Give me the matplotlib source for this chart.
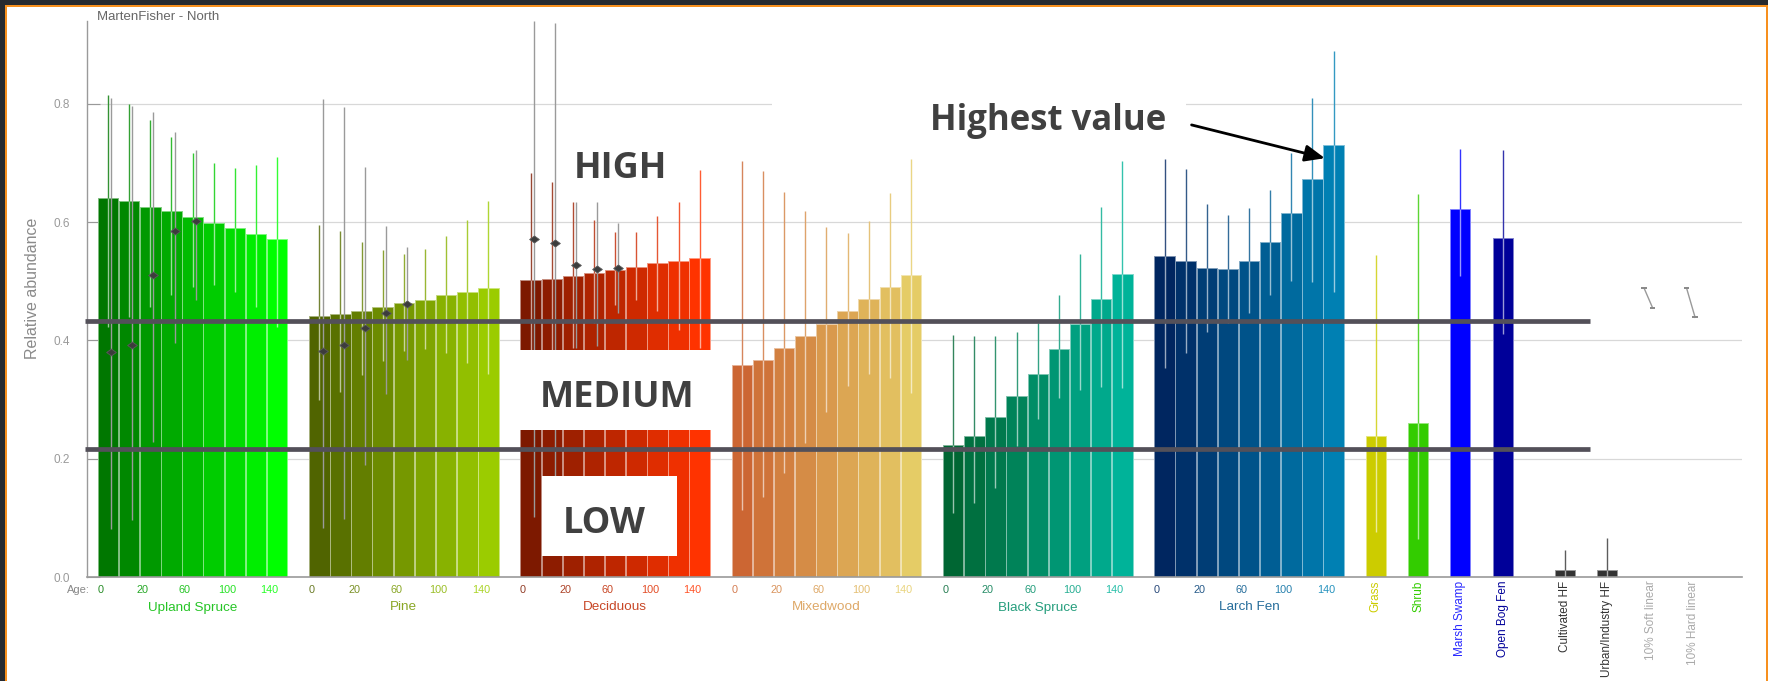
import numpy as np
import matplotlib
matplotlib.use("Agg")
import matplotlib.pyplot as plt
import matplotlib.colors as mcolors
from matplotlib.patches import Rectangle
from matplotlib import transforms as mtransforms

# ---------------- data ----------------
groups = ["Upland Spruce", "Pine", "Deciduous", "Mixedwood", "Black Spruce", "Larch Fen"]
age_ticks = ["0", "20", "60", "100", "140"]

upland_mean = [0.641, 0.636, 0.626, 0.618, 0.608, 0.598, 0.590, 0.580, 0.571]
upland_lo = [0.423, 0.440, 0.457, 0.477, 0.491, 0.493, 0.482, 0.457, 0.423]
upland_hi = [0.815, 0.800, 0.773, 0.744, 0.717, 0.699, 0.691, 0.697, 0.710]

pine_mean = [0.441, 0.444, 0.450, 0.457, 0.464, 0.468, 0.476, 0.481, 0.488]
pine_lo = [0.299, 0.313, 0.342, 0.365, 0.382, 0.385, 0.379, 0.362, 0.344]
pine_hi = [0.595, 0.584, 0.566, 0.552, 0.546, 0.555, 0.576, 0.604, 0.635]

decid_mean = [0.502, 0.504, 0.509, 0.514, 0.519, 0.524, 0.530, 0.535, 0.540]
decid_lo = [0.340, 0.360, 0.387, 0.430, 0.460, 0.468, 0.449, 0.418, 0.387]
decid_hi = [0.683, 0.667, 0.634, 0.604, 0.583, 0.583, 0.610, 0.634, 0.688]

mixed_mean = [0.358, 0.367, 0.387, 0.407, 0.428, 0.449, 0.470, 0.490, 0.511]
mixed_lo = [0.114, 0.135, 0.176, 0.226, 0.280, 0.323, 0.343, 0.336, 0.312]
mixed_hi = [0.703, 0.686, 0.651, 0.619, 0.592, 0.582, 0.602, 0.649, 0.707]

bspruce_mean = [0.224, 0.239, 0.271, 0.306, 0.344, 0.385, 0.428, 0.470, 0.512]
bspruce_lo = [0.108, 0.125, 0.150, 0.222, 0.268, 0.302, 0.316, 0.322, 0.320]
bspruce_hi = [0.409, 0.407, 0.407, 0.414, 0.429, 0.476, 0.546, 0.625, 0.703]

larch_mean = [0.543, 0.535, 0.523, 0.521, 0.535, 0.566, 0.615, 0.672, 0.730]
larch_lo = [0.354, 0.379, 0.415, 0.430, 0.446, 0.477, 0.501, 0.499, 0.481]
larch_hi = [0.707, 0.689, 0.631, 0.612, 0.623, 0.654, 0.717, 0.809, 0.889]

# second estimate (youngest five age classes only)
upland_alt_mid = [0.381, 0.392, 0.511, 0.585, 0.601]
upland_alt_lo = [0.082, 0.096, 0.229, 0.395, 0.468]
upland_alt_hi = [0.810, 0.796, 0.786, 0.752, 0.721]

pine_alt_mid = [0.383, 0.392, 0.421, 0.447, 0.461]
pine_alt_lo = [0.084, 0.098, 0.190, 0.309, 0.367]
pine_alt_hi = [0.808, 0.794, 0.693, 0.593, 0.557]

decid_alt_mid = [0.571, 0.565, 0.527, 0.521, 0.522]
decid_alt_lo = [0.102, 0.170, 0.387, 0.390, 0.446]
decid_alt_hi = [0.940, 0.936, 0.634, 0.634, 0.598]

single_names = ["Grass", "Shrub", "Marsh Swamp", "Open Bog Fen", "Cultivated HF", "Urban/Industry HF"]
single_mean = [0.238, 0.261, 0.622, 0.573, 0.013, 0.012]
single_lo = [0.076, 0.064, 0.508, 0.411, 0.0, 0.0]
single_hi = [0.544, 0.647, 0.724, 0.721, 0.046, 0.067]

linear_names = ["10% Soft linear", "10% Hard linear"]
linear_from = [0.488, 0.488]
linear_to = [0.455, 0.439]

thresholds = [0.4334, 0.2172]

# ---------------- style ----------------
group_ramps = [("#007700", "#00ff00"), ("#506400", "#9bcc00"), ("#7d1900", "#ff3300"),
               ("#cc6633", "#e5cc66"), ("#006633", "#00b399"), ("#002660", "#0080b3")]
single_colors = ["#cccc00", "#33cc00", "#0000ff", "#000099", "#333333", "#333333"]
single_label_colors = ["#cccc00", "#33cc00", "#2a2aff", "#000099", "#333333", "#333333"]
linear_label_color = "#aaaaaa"
single_pos = [60.5, 62.5, 64.5, 66.5, 69.45, 71.45]
linear_pos = [73.4, 75.41]

REG = "Liberation Sans"
BOLD = "Open Sans"
W, H = 1768, 681


def tint(c, f):
    r = np.array(mcolors.to_rgb(c))
    return tuple(r + (1 - r) * f)


def ramp(c0, c1, n):
    a = np.array(mcolors.to_rgb(c0))
    b = np.array(mcolors.to_rgb(c1))
    return [tuple(a + (b - a) * t) for t in np.linspace(0, 1, n)]


fig = plt.figure(figsize=(W / 100, H / 100), dpi=100)
fig.patch.set_facecolor("white")
ax = fig.add_axes([86.8 / W, 1 - 577.3 / H, (1742 - 86.8) / W, (577.3 - 20.7) / H])
ax.set_xlim(-0.506, 77.83)
ax.set_ylim(0, 0.940)

for s in ["top", "right"]:
    ax.spines[s].set_visible(False)
ax.spines["left"].set_color("#9a9a9a")
ax.spines["left"].set_linewidth(1.0)
ax.spines["bottom"].set_color("#9a9a9a")
ax.spines["bottom"].set_linewidth(1.2)
ax.set_xticks([])
yt = [0.0, 0.2, 0.4, 0.6, 0.8]
ax.set_yticks(yt)
ax.set_yticklabels([f"{v:.1f}" for v in yt], fontfamily=REG)
ax.tick_params(axis="y", direction="in", length=9, width=0.8, color="#999999",
               labelcolor="#9a9a9a", labelsize=8.5, pad=12)
ax.yaxis.grid(True, color="#d8d8d8", lw=0.9)
ax.set_axisbelow(True)

fig.text(32.5 / W, 1 - 288.7 / H, "Relative abundance", rotation=90, ha="center", va="center",
         color="#8a8a8a", fontsize=11.5, family=REG)
fig.text(96.7 / W, 1 - 20.3 / H, "MartenFisher - North", ha="left", va="baseline",
         color="#666666", fontsize=9.5, family=REG)

diamond = [(-1, 0), (0, 0.72), (1, 0), (0, -0.72), (-1, 0)]

series = [
    (upland_mean, upland_lo, upland_hi, (upland_alt_mid, upland_alt_lo, upland_alt_hi)),
    (pine_mean, pine_lo, pine_hi, (pine_alt_mid, pine_alt_lo, pine_alt_hi)),
    (decid_mean, decid_lo, decid_hi, (decid_alt_mid, decid_alt_lo, decid_alt_hi)),
    (mixed_mean, mixed_lo, mixed_hi, None),
    (bspruce_mean, bspruce_lo, bspruce_hi, None),
    (larch_mean, larch_lo, larch_hi, None),
]

xfig = mtransforms.blended_transform_factory(ax.transData, fig.transFigure)


def draw_ci(x, mean, lo, hi, cols):
    ax.vlines(x, lo, mean, colors=[tint(c, 0.6) for c in cols], lw=1.0, zorder=3)
    ax.vlines(x, mean, hi, colors=[tint(c, 0.2) for c in cols], lw=1.0, zorder=3)


for k, (name, (mean, lo, hi, alt)) in enumerate(zip(groups, series)):
    cols = ramp(*group_ramps[k], len(mean))
    x = 10 * k + np.arange(len(mean)) + 0.5
    ax.bar(x, mean, width=0.97, color=cols, edgecolor=[tint(c, 0.5) for c in cols],
           linewidth=0.7, zorder=2)
    draw_ci(x, mean, lo, hi, cols)
    if alt is not None:
        amid, alo, ahi = alt
        xa = x[:len(amid)] + 0.15
        ax.vlines(xa, alo, ahi, colors="#9a9a9a", lw=1.0, zorder=4)
        ax.plot(xa, amid, ls="none", marker=diamond, ms=7, mfc="#3c3c3c", mec="#5a5a5a",
                mew=0.6, zorder=5)
    # age tick labels and group name
    for i, lab in enumerate(age_ticks):
        ax.text(10 * k + 2 * i + 0.14, 1 - 593.3 / H, lab, transform=xfig, ha="center",
                va="baseline", fontsize=7.8, family=REG, color=tint(cols[2 * i], 0.15))
    ax.text(10 * k + 4.5, 1 - 610.5 / H, name, transform=xfig, ha="center", va="baseline",
            fontsize=9.7, family=REG, color=tint(cols[4], 0.15))

fig.text(90 / W, 1 - 593.3 / H, "Age:", ha="right", va="baseline", fontsize=8,
         family=REG, color="#888888")

# single habitat bars
ax.bar(single_pos, single_mean, width=0.95, color=single_colors,
       edgecolor=[tint(c, 0.5) for c in single_colors], linewidth=0.7, zorder=2)
draw_ci(np.array(single_pos), single_mean, single_lo, single_hi, single_colors)
for xp, name, c in zip(single_pos, single_names, single_label_colors):
    ax.text(xp, 1 - 580.5 / H, name, transform=xfig, rotation=90, ha="center", va="top",
            fontsize=8.5, family=REG, color=c)

# linear footprint effects
for xp, a, b, name in zip(linear_pos, linear_from, linear_to, linear_names):
    xt, xb = xp - 0.2, xp + 0.2
    ax.plot([xt, xb], [a, b], color="#9a9a9a", lw=1.0, zorder=4)
    ax.hlines([a], xt - 0.13, xt + 0.13, colors="#888888", lw=1.4, zorder=4)
    ax.hlines([b], xb - 0.13, xb + 0.13, colors="#888888", lw=1.4, zorder=4)
    ax.text(xp + 0.1, 1 - 580.5 / H, name, transform=xfig, rotation=90, ha="center", va="top",
            fontsize=8.5, family=REG, color=linear_label_color)

# HIGH / MEDIUM / LOW thresholds
ax.hlines(thresholds, -0.59, 70.63, colors="#535059", lw=3.4, zorder=6, clip_on=False)

# overlay panels and labels
ax.add_patch(Rectangle((19.35, 0.2488), 10.15, 0.1352, facecolor="white", edgecolor="none",
                       zorder=7))
ax.add_patch(Rectangle((21.02, 0.0365), 6.39, 0.1346, facecolor="white", edgecolor="none",
                       zorder=7))
ax.add_patch(Rectangle((31.92, 0.7303), 19.59, 0.1013, facecolor="white", edgecolor="none",
                       zorder=1.5))

big = dict(family=BOLD, fontweight="bold", fontsize=26, color="#404040", zorder=8,
           va="baseline", ha="center")
ax.text(24.77, 0.674, "HIGH", **big)
ax.text(24.57, 0.288, "MEDIUM", **big)
ax.text(23.97, 0.0748, "LOW", **big)
ax.text(39.4, 0.7556, "Highest value", **{**big, "ha": "left", "fontsize": 25})
ax.annotate("", xy=(58.09, 0.7078), xytext=(51.78, 0.764), xycoords="data",
            arrowprops=dict(arrowstyle="-|>,head_length=1.0,head_width=0.42", lw=2.0,
                            color="black", shrinkA=0, shrinkB=0, mutation_scale=12),
            zorder=9)

# page frame
def frame_rect(x0, y0, w, h, c):
    fig.add_artist(Rectangle((x0 / W, 1 - (y0 + h) / H), w / W, h / H, transform=fig.transFigure,
                             facecolor=c, edgecolor="none", zorder=20))

frame_rect(0, 0, W, 5, "#262a30")
frame_rect(0, 0, 5, H, "#262a30")
frame_rect(5, 5, W - 5, 2, "#f7901e")
frame_rect(5, 5, 2, H - 5, "#f7901e")
frame_rect(1765.5, 5, 2, H - 5, "#f7901e")

fig.savefig("out.png", dpi=100)
